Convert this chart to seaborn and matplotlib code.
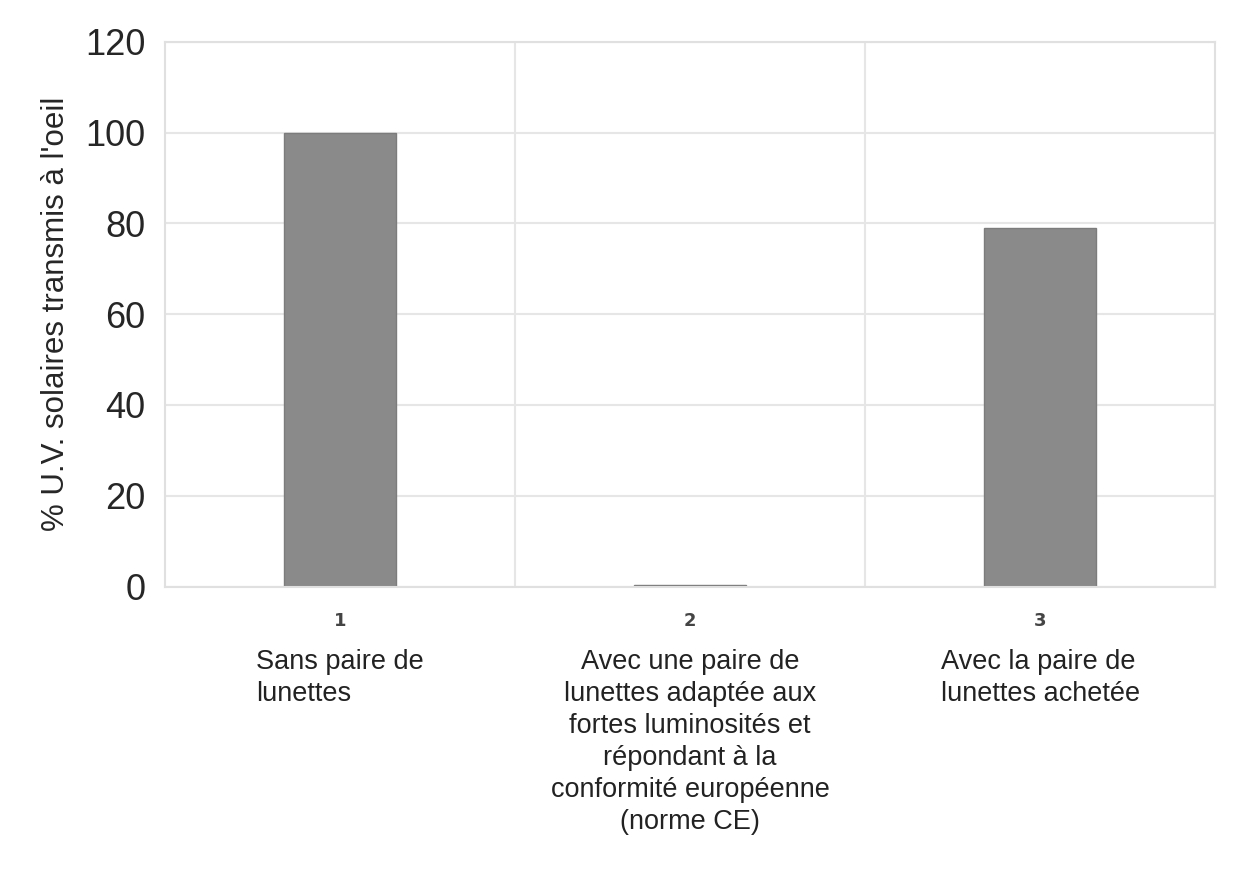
import matplotlib
matplotlib.use("Agg")
import matplotlib.pyplot as plt
import seaborn as sns
import pandas as pd
from matplotlib.ticker import MultipleLocator, FixedLocator

# ---- data ----
categories = ["1", "2", "3"]
values = [100, 0.4, 79]
descriptions = [
    "Sans paire de\nlunettes",
    "Avec une paire de\nlunettes adaptée aux\nfortes luminosités et\nrépondant à la\nconformité européenne\n(norme CE)",
    "Avec la paire de\nlunettes achetée",
]
desc_align = ["left", "center", "left"]
y_label = "% U.V. solaires transmis à l'oeil"

sns.set_theme(style="white")
plt.rcParams["font.family"] = ["Liberation Sans", "DejaVu Sans"]

fig = plt.figure(figsize=(12.39, 8.69), dpi=100)
ax = fig.add_axes([0.133, 0.325, 0.848, 0.627])

df = pd.DataFrame({"cat": categories, "val": values})
sns.barplot(data=df, x="cat", y="val", color="#8a8a8a", saturation=1,
            width=0.32, ax=ax, edgecolor="#7c7c7c", linewidth=1)

ax.set_ylim(0, 120)
ax.set_xlim(-0.5, 2.5)
ax.yaxis.set_major_locator(MultipleLocator(20))
ax.xaxis.set_minor_locator(FixedLocator([0.5, 1.5]))
ax.grid(axis="y", which="major", color="#e6e6e6", linewidth=1.5)
ax.grid(axis="x", which="minor", color="#e6e6e6", linewidth=1.5)
ax.set_axisbelow(True)
for s in ax.spines.values():
    s.set_color("#e0e0e0")
    s.set_linewidth(1.5)

ax.tick_params(axis="y", labelsize=26, labelcolor="#262626", length=0, pad=14)
ax.tick_params(axis="x", which="both", length=0, pad=18)
ax.set_xticks(range(len(categories)))
ax.set_xticklabels(categories, fontsize=13, fontweight="bold", color="#444444",
                   family=["DejaVu Sans"])
ax.set_xlabel("")
ax.set_ylabel(y_label, fontsize=22.5, color="#262626", labelpad=10)

for i, (txt, al) in enumerate(zip(descriptions, desc_align)):
    ax.text(i, -0.115, txt, transform=ax.get_xaxis_transform(),
            ha="center", va="top", multialignment=al,
            fontsize=19.5, color="#222222", linespacing=1.3)

fig.savefig("out.png", dpi=100, facecolor="white")
